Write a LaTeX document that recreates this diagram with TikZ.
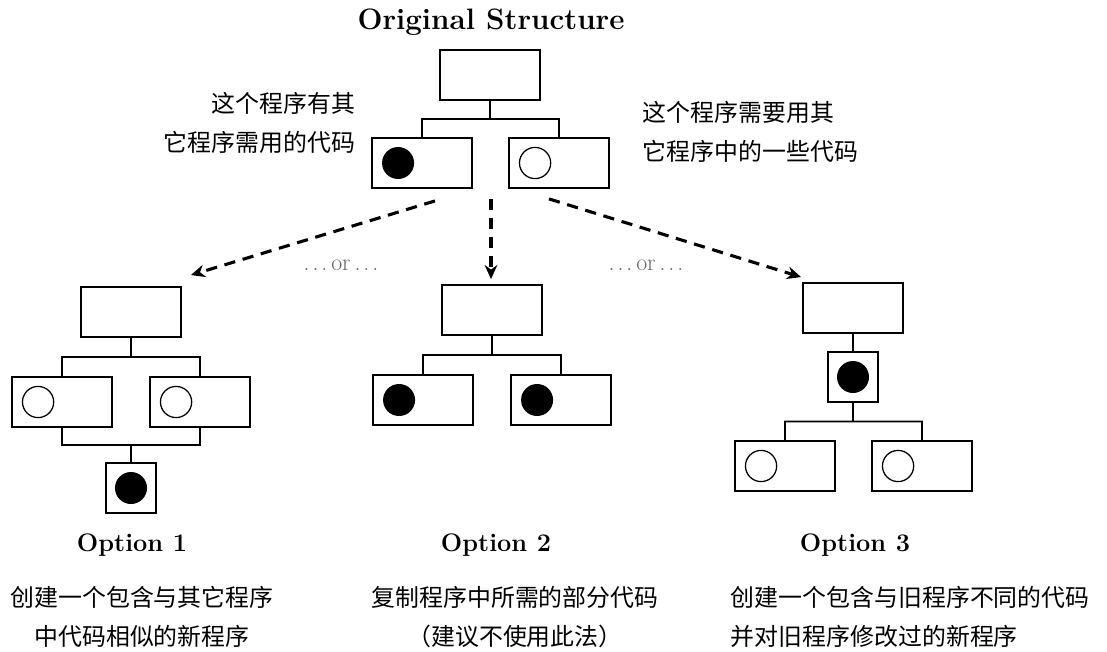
\documentclass[tikz,border=0pt]{standalone}
\usepackage{fontspec}
\newfontfamily\cjk{Noto Sans CJK SC}
\usetikzlibrary{arrows.meta,positioning,calc}
\newcommand{\dd}{.\hspace{2pt}.\hspace{2pt}.}

\begin{document}
\begin{tikzpicture}[x=0.025cm,y=-0.025cm,>=Stealth,
  bx/.style={rectangle,draw,line width=1.3pt,minimum width=2.5cm,minimum height=1.25cm,inner sep=0pt},
  sq/.style={bx,minimum width=1.25cm},
  full/.style={circle,fill=black,minimum size=0.8cm,inner sep=0pt},
  hollow/.style={circle,draw,line width=0.9pt,minimum size=0.78cm,inner sep=0pt},
  ln/.style={line width=1.3pt},
  da/.style={->,line width=2.2pt,dash pattern=on 8pt off 5.5pt,>={Stealth[length=10pt,width=9pt]}},
  zh/.style={font=\cjk\fontsize{17}{27.5}\selectfont},
  opt/.style={font=\fontsize{18}{22}\selectfont\bfseries},
  orl/.style={font=\fontsize{17}{19}\selectfont,text=black!60}]
\useasboundingbox (0,0) rectangle (1107,652);
\node[opt,font=\fontsize{21}{24}\selectfont\bfseries] (title) at (491,22) {Original Structure};
\node[bx] (T0) at (490,75) {};
\node[bx] (L0) at (422,163) {};
\node[bx] (R0) at (559,163) {};
\node[bx] (A0) at (131,312) {};
\node[bx] (A1) at (62,402) {};
\node[bx] (A2) at (200,402) {};
\node[sq] (A3) at (131,488) {};
\node[bx] (B0) at (492,310) {};
\node[bx] (B1) at (423,400) {};
\node[bx] (B2) at (561,400) {};
\node[bx] (C0) at (853,308) {};
\node[sq] (C1) at (853,377) {};
\node[bx] (C2) at (785,466) {};
\node[bx] (C3) at (922,466) {};
\foreach \b in {L0,B1,B2} \node[full] (d\b) at ($(\b.west)+(27,0)$) {};
\foreach \b in {A3,C1} \node[full] (d\b) at (\b) {};
\foreach \b in {R0,A1,A2,C2,C3} \node[hollow] (d\b) at ($(\b.west)+(27,0)$) {};
\foreach \p/\l/\r in {T0/L0/R0,A0/A1/A2,B0/B1/B2,C1/C2/C3}{
  \coordinate (j\p) at ($(\p.south)!0.5!(\p.south|-\l.north)$);
  \draw[ln] (\p.south) -- (j\p) (\l.north) |- (j\p) -| (\r.north);
}
\coordinate (jA3) at ($(A3.north)!0.5!(A3.north|-A1.south)$);
\draw[ln] (A3.north) -- (jA3) (A1.south) |- (jA3) -| (A2.south);
\draw[ln] (C0) -- (C1);
\draw[da] ($(L0.south)+(13,12)$) -- ($(A0.north east)+(9,-11)$);
\draw[da] ($(B0.north)+(-1,-85)$) -- ($(B0.north)+(-1,-5)$);
\draw[da] ($(R0.south)+(-10,10)$) -- ($(C0.north west)+(-1,-5)$);
\node[orl] (or1) at (341,265) {\dd\,or\,\dd};
\node[orl] (or2) at (646,265) {\dd\,or\,\dd};
\node[zh,anchor=east,align=right] (tL) at (360,123) {这个程序有其\\它程序需用的代码};
\node[zh,anchor=west,align=left] (tR) at (638,132) {这个程序需要用其\\它程序中的一些代码};
\node[opt] (o1) at (132,545) {Option 1};
\node[opt] (o2) at (496,545) {Option 2};
\node[opt] (o3) at (855,545) {Option 3};
\node[zh,align=center] (t1) at (142,617) {创建一个包含与其它程序\\中代码相似的新程序};
\node[zh,align=center] (t2) at (515,617) {复制程序中所需的部分代码\\（建议不使用此法）};
\node[zh,anchor=west,align=left] (t3) at (726,617) {创建一个包含与旧程序不同的代码\\并对旧程序修改过的新程序};
\end{tikzpicture}
\end{document}
